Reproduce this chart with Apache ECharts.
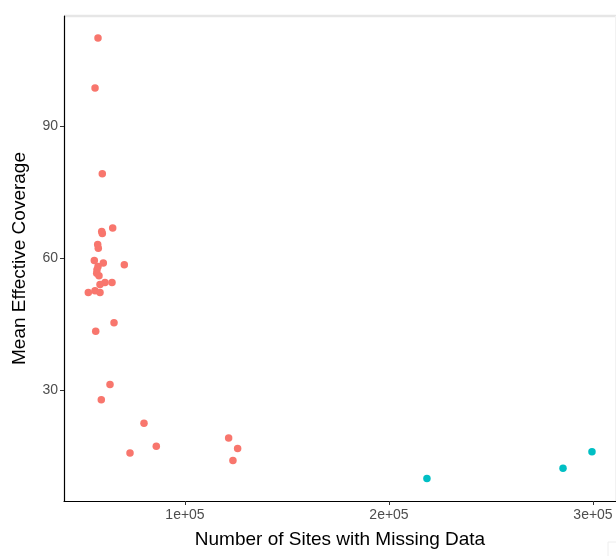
<!DOCTYPE html>
<html>
<head>
<meta charset="utf-8">
<script src="https://cdn.jsdelivr.net/npm/echarts@6/dist/echarts.min.js"></script>
<style>
html,body{margin:0;padding:0;background:#fff;}
#chart{width:616px;height:556px;}
</style>
</head>
<body>
<div id="chart"></div>
<script>
// Group A (red)
const groupA_x = [57350, 55900, 59460, 64560, 59170, 59460, 57200, 57500, 55540, 59950, 70250, 57350, 56860, 56710, 57840, 60780, 64220, 58330, 52600, 55880, 58330, 65200, 56230, 63240, 58970, 79900, 73040, 85930, 121400, 125800, 123500];
const groupA_y = [110.1, 98.75, 79.2, 66.9, 66.1, 65.6, 63.1, 62.3, 59.5, 58.9, 58.5, 58.1, 57.4, 56.6, 56.0, 54.5, 54.5, 54.0, 52.2, 52.6, 52.2, 45.3, 43.4, 31.25, 27.8, 22.45, 15.7, 17.2, 19.1, 16.7, 14.0];
// Group B (cyan)
const groupB_x = [218600, 285300, 299500];
const groupB_y = [9.9, 12.2, 16.0];

const xTicks = [100000, 200000, 300000];
const xTickLabels = ['1e+05', '2e+05', '3e+05'];
const yTicks = [30, 60, 90];
const yTickLabels = ['30', '60', '90'];

const xTitle = 'Number of Sites with Missing Data';
const yTitle = 'Mean Effective Coverage';

const pairs = (xs, ys) => xs.map((v, i) => [v, ys[i]]);

const chart = echarts.init(document.getElementById('chart'), null, {renderer: 'canvas'});
const font = '"Liberation Sans", Arial, sans-serif';

chart.setOption({
  animation: false,
  backgroundColor: '#ffffff',
  grid: {left: 64, right: 0, top: 16, bottom: 55, containLabel: false},
  xAxis: {
    type: 'value',
    min: 40686, max: 311275,
    name: xTitle,
    nameLocation: 'middle',
    nameGap: 29,
    nameTextStyle: {color: '#000', fontSize: 19, fontFamily: font},
    axisLine: {show: true, onZero: false, lineStyle: {color: '#000', width: 1.2}},
    axisTick: {show: true, length: 4, customValues: xTicks, lineStyle: {color: '#333'}},
    axisLabel: {
      show: true, customValues: xTicks, color: '#4D4D4D', fontSize: 14, fontFamily: font, margin: 7,
      formatter: v => xTickLabels[xTicks.indexOf(v)]
    },
    splitLine: {show: false}
  },
  yAxis: {
    type: 'value',
    min: 4.77, max: 115.11,
    name: yTitle,
    nameLocation: 'middle',
    nameGap: 35,
    nameRotate: 90,
    nameTextStyle: {color: '#000', fontSize: 19, fontFamily: font},
    axisLine: {show: true, onZero: false, lineStyle: {color: '#000', width: 1.2}},
    axisTick: {show: true, length: 4, customValues: yTicks, lineStyle: {color: '#333'}},
    axisLabel: {
      show: true, customValues: yTicks, color: '#4D4D4D', fontSize: 14, fontFamily: font, margin: 6,
      formatter: v => yTickLabels[yTicks.indexOf(v)]
    },
    splitLine: {show: false}
  },
  graphic: [
    {type: 'line', shape: {x1: 64, y1: 16, x2: 616, y2: 16}, style: {stroke: '#E6E6E6', lineWidth: 2.5}, silent: true},
    {type: 'line', shape: {x1: 615.5, y1: 16, x2: 615.5, y2: 501}, style: {stroke: '#F2F2F2', lineWidth: 1}, silent: true},
    {type: 'rect', shape: {x: 608, y: 542, width: 20, height: 20}, style: {fill: 'none', stroke: '#EEEEEE', lineWidth: 1}, silent: true}
  ],
  series: [
    {
      type: 'scatter', name: 'A', symbol: 'circle', symbolSize: 7.5,
      itemStyle: {color: '#F8766D', opacity: 1},
      data: pairs(groupA_x, groupA_y)
    },
    {
      type: 'scatter', name: 'B', symbol: 'circle', symbolSize: 7.5,
      itemStyle: {color: '#00BFC4', opacity: 1},
      data: pairs(groupB_x, groupB_y)
    }
  ]
});
</script>
</body>
</html>
